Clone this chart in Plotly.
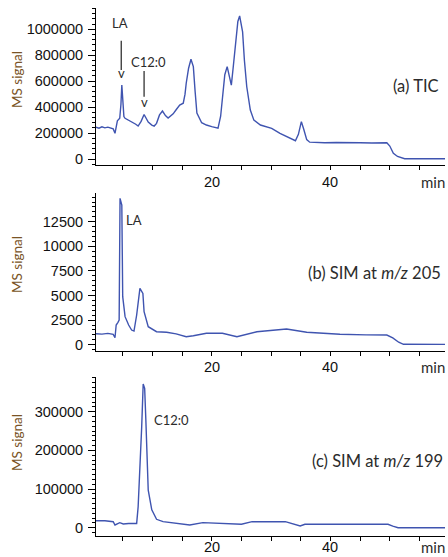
import plotly.graph_objects as go

# ---------------- data ----------------
tic_t = [0.5, 1.0, 1.5, 2.0, 2.5, 3.0, 3.4, 3.7, 4.1, 4.5, 4.7, 4.85, 5.0, 5.2, 5.4, 6.0,
         6.8, 7.2, 7.6, 8.1, 8.6, 8.9, 9.3, 9.9, 10.3, 10.7, 11.2, 11.7, 12.2, 12.65, 13.1,
         13.5, 14.0, 14.6, 15.2, 15.5, 15.7, 16.1, 16.5, 16.9, 17.2, 17.5, 18.3, 19.1, 20.0,
         21.06, 21.5, 21.8, 22.2, 22.6, 22.9, 23.3, 23.6, 24.0, 24.4, 24.7, 25.0, 25.2, 25.5,
         25.9, 26.5, 27.1, 28.2, 29.0, 30.1, 31.5, 33.0, 34.1, 34.6, 35.1, 35.5, 36.0, 36.5,
         37.5, 39.0, 41.0, 43.0, 45.0, 47.0, 49.5, 50.0, 50.6, 51.3, 52.5, 55.0, 59.3]
tic_v = [245000, 238000, 248000, 240000, 246000, 236000, 232000, 198000, 295000, 314000,
         420000, 570000, 430000, 327000, 314000, 300000, 280000, 268000, 254000, 290000,
         343000, 315000, 285000, 262000, 254000, 275000, 340000, 370000, 335000, 316000, 335000,
         348000, 380000, 416000, 430000, 500000, 584000, 700000, 769000, 712000, 520000,
         354000, 280000, 262000, 250000, 238000, 330000, 490000, 650000, 712000, 660000,
         570000, 700000, 866000, 1060000, 1103000, 1020000, 980000, 763000, 557000, 378000,
         300000, 262000, 250000, 237000, 198000, 165000, 141000, 190000, 288000, 230000,
         150000, 130000, 127000, 125000, 127000, 124000, 126000, 124000, 125000, 100000,
         45000, 20000, 2000, 2000, 2000]

sim205_t = [0.5, 1.5, 2.5, 3.4, 3.7, 3.9, 4.2, 4.4, 4.55, 4.85, 5.0, 5.4, 6.0, 6.5, 6.9, 7.35,
            7.9, 8.4, 8.6, 9.3, 10.7, 12.4, 14.0, 15.7, 16.9, 19.1, 21.8, 24.25, 27.6, 30.0,
            32.6, 36.0, 41.6, 46.0, 49.5, 50.5, 51.5, 52.3, 55.0, 59.3]
sim205_v = [1120, 1080, 1150, 1050, 710, 2000, 2270, 2500, 14880, 14200, 4880, 2850, 2000,
            1490, 1390, 3020, 5730, 5220, 3350, 1830, 1320, 1260, 1100, 810, 915, 1160, 1160,
            810, 1320, 1450, 1590, 1260, 1057, 1000, 985, 700, 250, 40, 30, 30]

sim199_t = [0.5, 2.0, 3.4, 3.7, 4.5, 5.1, 6.0, 7.35, 7.6, 7.9, 8.2, 8.45, 8.7, 8.9, 9.3, 9.9,
            10.7, 11.8, 14.6, 16.3, 18.5, 21.8, 25.0, 26.8, 32.4, 34.9, 35.7, 42.0, 49.7,
            50.5, 51.4, 55.0, 59.3]
sim199_v = [18100, 18100, 15500, 7000, 13000, 9500, 11000, 11000, 54000, 149000, 261000,
            371600, 360000, 278000, 97000, 46000, 21700, 15500, 11400, 7000, 13000, 11400,
            8800, 15500, 15500, 4400, 8800, 8800, 8800, 4000, 0, 0, 0]

x_tick_vals = [5, 10, 15, 20, 25, 30, 35, 40, 45, 50, 55]
x_label_vals = [20, 40]
x_label_text = ["20", "40"]

yticks_a = [0, 200000, 400000, 600000, 800000, 1000000]
yticks_b = [0, 2500, 5000, 7500, 10000, 12500]
yticks_c = [0, 100000, 200000, 300000]

panel_labels = ["(a) TIC", "(b) SIM at <i>m/z</i> 205", "(c) SIM at <i>m/z</i> 199"]

# ---------------- figure ----------------
W, H = 448, 557
ML, MR, MT, MB = 96, 3, 8, 21
PW, PH = W - ML - MR, H - MT - MB

def px(x):
    return (x - ML) / PW

def py(y):
    return (H - MB - y) / PH

LINE = "#3f54b0"
TXT = "#2b2b2b"
MS = "#7a5426"

fig = go.Figure()
fig.add_trace(go.Scatter(x=tic_t, y=tic_v, mode="lines", line=dict(color=LINE, width=1.4),
                         xaxis="x", yaxis="y", showlegend=False))
fig.add_trace(go.Scatter(x=sim205_t, y=sim205_v, mode="lines", line=dict(color=LINE, width=1.4),
                         xaxis="x2", yaxis="y2", showlegend=False))
fig.add_trace(go.Scatter(x=sim199_t, y=sim199_v, mode="lines", line=dict(color=LINE, width=1.4),
                         xaxis="x3", yaxis="y3", showlegend=False))

tickfont = dict(family="Liberation Sans, Arial", size=14.5, color="#111")

def xax(anchor):
    return dict(range=[0.5, 59.3], domain=[0, 1], anchor=anchor, showline=True,
                linecolor="black", linewidth=1, ticks="outside", ticklen=4, tickcolor="black",
                tickvals=x_tick_vals, showticklabels=False, showgrid=False, zeroline=False,
                automargin=False)

def yax(anchor, rng, dom, vals, minor):
    return dict(range=rng, domain=dom, anchor=anchor, showline=True, linecolor="black",
                linewidth=1, ticks="outside", ticklen=7, tickcolor="black", tickvals=vals,
                tickformat="d", showgrid=False, zeroline=False, tickfont=tickfont,
                ticklabelstandoff=2, automargin=False,
                minor=dict(ticks="outside", ticklen=3, tickcolor="black", dtick=minor))

fig.update_layout(
    template="none",
    width=W, height=H, margin=dict(l=ML, r=MR, t=MT, b=MB, pad=0),
    plot_bgcolor="white", paper_bgcolor="white",
    xaxis=xax("y"), xaxis2=xax("y2"), xaxis3=xax("y3"),
    yaxis=yax("x", [-46000, 1164000], [py(165), 1.0], yticks_a, 40000),
    yaxis2=yax("x2", [-640, 15420], [py(351), py(193)], yticks_b, 500),
    yaxis3=yax("x3", [-21500, 389700], [0, py(377)], yticks_c, 12500),
)

txtfont = dict(family="Lato, Open Sans, sans-serif", size=16.5, color=TXT)
C = dict(xanchor="center", yanchor="middle", showarrow=False)
ann = []
# panel labels
for label, (cx, cy) in zip(panel_labels, [(416, 86), (374, 273), (377, 461)]):
    ann.append(dict(text=label, x=px(cx), y=py(cy), xref="paper", yref="paper",
                    font=txtfont, **C))
# y titles
for cy in [80, 265, 443]:
    ann.append(dict(text="MS signal", x=px(17), y=py(cy), xref="paper", yref="paper",
                    textangle=-90,
                    font=dict(family="Lato, Open Sans, sans-serif", size=13.5, color=MS), **C))
# x tick labels and "min" unit labels
for xa, cy in [("x", 182), ("x2", 367), ("x3", 547)]:
    for v, t in zip(x_label_vals, x_label_text):
        ann.append(dict(text=t, x=v, y=py(cy), xref=xa, yref="paper", font=tickfont, **C))
    ann.append(dict(text="min", x=px(447), y=py(cy), xref="paper", yref="paper",
                    xanchor="right", yanchor="middle", showarrow=False,
                    font=dict(family="Lato, Open Sans, sans-serif", size=15, color=TXT)))
# peak labels
small = dict(family="Lato, Open Sans, sans-serif", size=13, color=TXT)
ann.append(dict(text="LA", x=4.55, y=1048000, xref="x", yref="y", font=small, **C))
ann.append(dict(text="v", x=4.75, y=660000, xref="x", yref="y", font=small, **C))
ann.append(dict(text="C12:0", x=9.3, y=748000, xref="x", yref="y", font=small, **C))
ann.append(dict(text="v", x=8.6, y=436000, xref="x", yref="y", font=small, **C))
ann.append(dict(text="LA", x=6.9, y=12700, xref="x2", yref="y2", font=small, **C))
ann.append(dict(text="C12:0", x=13.2, y=279000, xref="x3", yref="y3", font=small, **C))
fig.update_layout(annotations=ann)

fig.add_shape(type="line", x0=4.75, x1=4.75, y0=912000, y1=686000, xref="x", yref="y",
              line=dict(color="#222", width=1.2))
fig.add_shape(type="line", x0=8.6, x1=8.6, y0=678000, y1=480000, xref="x", yref="y",
              line=dict(color="#222", width=1.2))

fig.write_html("out.html", config={"displayModeBar": False},
               post_script="document.body.style.margin='0px';document.body.style.padding='0px';")
